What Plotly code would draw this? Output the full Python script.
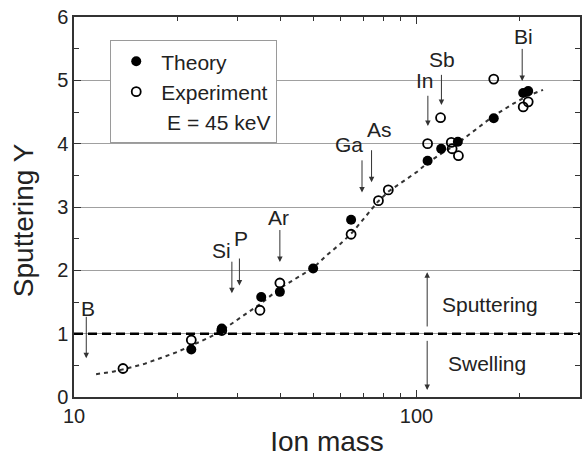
import math
import plotly.graph_objects as go

# ---- data ----
theory_mass = [22.0, 27.0, 35.2, 39.9, 49.9, 64.4, 107.7, 118.0, 132.0, 168.0, 204.8, 211.8]
theory_Y = [0.75, 1.08, 1.58, 1.66, 2.03, 2.80, 3.73, 3.92, 4.03, 4.40, 4.80, 4.83]

exp_mass = [13.9, 22.0, 27.0, 34.9, 39.9, 64.4, 77.4, 82.7, 107.7, 117.5, 126.3, 127.0, 132.5, 168.0, 204.8, 211.8]
exp_Y = [0.45, 0.90, 1.05, 1.37, 1.80, 2.57, 3.10, 3.27, 4.00, 4.41, 4.02, 3.92, 3.81, 5.02, 4.58, 4.66]

fit_mass = [11.6, 13, 14, 16, 18, 20, 22, 25, 27, 30, 35, 40, 45, 50, 55, 60, 65, 70, 77, 83, 90, 96,
            100, 108, 120, 130, 150, 167, 190, 210, 234]
fit_Y = [0.36, 0.40, 0.44, 0.52, 0.62, 0.71, 0.81, 0.95, 1.05, 1.22, 1.47, 1.72, 1.89, 2.04, 2.25, 2.42,
         2.60, 2.81, 3.08, 3.25, 3.38, 3.47, 3.55, 3.70, 3.87, 3.98, 4.24, 4.43, 4.62, 4.75, 4.85]

elements = ["B", "Si", "P", "Ar", "Ga", "As", "In", "Sb", "Bi"]
elem_mass = [10.86, 28.9, 30.4, 39.9, 69.3, 73.9, 107.9, 118.2, 203.4]
arrow_top = [1.29, 2.16, 2.21, 2.66, 3.76, 3.92, 4.78, 5.11, 5.52]
arrow_tip = [0.61, 1.64, 1.76, 2.13, 3.23, 3.39, 4.28, 4.61, 4.99]
label_mass = [10.98, 27.0, 30.8, 39.5, 63.7, 77.8, 105.8, 118.7, 204.8]
label_Y = [1.40, 2.31, 2.50, 2.84, 3.98, 4.23, 4.99, 5.33, 5.69]

x_ticks = [10, 100]
x_minor = [20, 30, 40, 50, 60, 70, 80, 90, 200]

FONT = "Liberation Sans, Arial, sans-serif"
INK = "#222222"
AX = "#333333"

fig = go.Figure()
fig.add_trace(go.Scatter(x=fit_mass, y=fit_Y, mode="lines", showlegend=False, hoverinfo="skip",
                         line=dict(color="#333333", width=2, dash="4px,4px")))
fig.add_trace(go.Scatter(x=theory_mass, y=theory_Y, mode="markers", name="Theory",
                         marker=dict(symbol="circle", size=10, color="black")))
fig.add_trace(go.Scatter(x=exp_mass, y=exp_Y, mode="markers", name="Experiment",
                         marker=dict(symbol="circle-open", size=9, color="black", line=dict(width=1.8))))
fig.add_trace(go.Scatter(x=[None], y=[None], mode="markers", name=" E = 45 keV",
                         marker=dict(color="rgba(0,0,0,0)", size=1)))

# threshold line
fig.add_shape(type="line", xref="paper", x0=0, x1=1, yref="y", y0=1, y1=1,
              line=dict(color="black", width=2.5, dash="9px,5px"))

# element arrows and labels
for name, m, yt, yh, lm, ly in zip(elements, elem_mass, arrow_top, arrow_tip, label_mass, label_Y):
    fig.add_annotation(x=math.log10(m), y=yh, ax=math.log10(m), ay=yt, axref="x", ayref="y",
                       xref="x", yref="y", text="", showarrow=True, arrowhead=2, arrowsize=1.1,
                       arrowwidth=1, arrowcolor=AX)
    fig.add_annotation(x=math.log10(lm), y=ly, xref="x", yref="y", text=name, showarrow=False,
                       font=dict(family=FONT, size=21, color=INK))

# sputtering / swelling arrows
m_sw = 107.4
fig.add_annotation(x=math.log10(m_sw), y=1.97, ax=math.log10(m_sw), ay=1.09, axref="x", ayref="y",
                   text="", showarrow=True, arrowhead=2, arrowsize=1.1, arrowwidth=1, arrowcolor=AX)
fig.add_annotation(x=math.log10(m_sw), y=0.11, ax=math.log10(m_sw), ay=0.91, axref="x", ayref="y",
                   text="", showarrow=True, arrowhead=2, arrowsize=1.1, arrowwidth=1, arrowcolor=AX)
fig.add_annotation(x=math.log10(163.8), y=1.46, text="Sputtering", showarrow=False,
                   font=dict(family=FONT, size=21, color=INK))
fig.add_annotation(x=math.log10(161), y=0.53, text="Swelling", showarrow=False,
                   font=dict(family=FONT, size=21, color=INK))

# y-axis title (placed as in the reference, slightly below the plot centre)
fig.add_annotation(xref="paper", yref="paper", x=-0.101, y=0.465, text="Sputtering Y",
                   textangle=-90, showarrow=False, xanchor="center", yanchor="middle",
                   font=dict(family=FONT, size=28, color=INK))

fig.update_layout(
    width=583, height=461,
    margin=dict(l=74, r=1, t=17, b=64),
    paper_bgcolor="white", plot_bgcolor="white",
    font=dict(family=FONT, color=INK, size=20),
    legend=dict(x=0.0716, y=0.939, xanchor="left", yanchor="top", bgcolor="white",
                bordercolor="#9a9a9a", borderwidth=1, font=dict(family=FONT, size=21, color=INK),
                itemwidth=40),
    xaxis=dict(type="log", range=[1, math.log10(300)], tickmode="array", tickvals=x_ticks,
               ticktext=[str(v) for v in x_ticks], ticks="inside", ticklen=7, tickwidth=1.2,
               tickcolor=AX, showline=True, linecolor=AX, linewidth=1.5, mirror="ticks",
               showgrid=False, zeroline=False,
               tickfont=dict(family=FONT, size=20, color=INK),
               minor=dict(tickmode="array", tickvals=x_minor, ticks="inside", ticklen=4,
                          tickcolor=AX, tickwidth=1.2, showgrid=False),
               title=dict(text="Ion mass", font=dict(family=FONT, size=28, color=INK), standoff=6)),
    yaxis=dict(range=[0, 6], tick0=0, dtick=1, ticks="inside", ticklen=7, tickwidth=1.2,
               tickcolor=AX, showline=True, linecolor=AX, linewidth=1.5, mirror="ticks",
               showgrid=True, gridcolor="#a0a0a0", gridwidth=1, zeroline=False,
               tickfont=dict(family=FONT, size=20, color=INK),
               minor=dict(dtick=0.5, ticks="inside", ticklen=5, tickcolor=AX, tickwidth=1.2,
                          showgrid=False)),
)

fig.write_html("out.html")
